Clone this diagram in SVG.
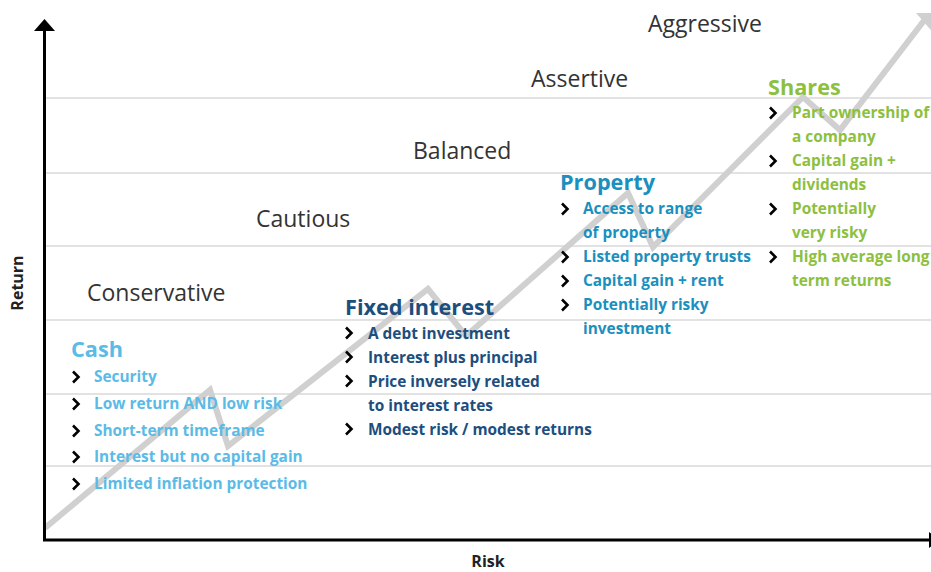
<svg xmlns="http://www.w3.org/2000/svg" width="931" height="572" viewBox="0 0 931 572">
<style>
.grid{stroke:#d9d9d9;stroke-width:1.5;fill:none}
.axis{stroke:#000;stroke-width:3;fill:none}
.zig{stroke:#d0d0d0;stroke-width:6;fill:none;stroke-linejoin:miter}
.lvl{font-family:"Open Sans","Liberation Sans",sans-serif;font-size:23px;fill:#333}
.head{font-family:"Open Sans","Liberation Sans",sans-serif;font-size:21.7px;font-weight:bold}
.item{font-family:"Open Sans","Liberation Sans",sans-serif;font-size:15.4px;font-weight:bold}
.ax{font-family:"Open Sans","Liberation Sans",sans-serif;font-size:16px;font-weight:bold;fill:#222}
.cash{fill:#5bbbe6}
.fixed{fill:#1c4e7e}
.prop{fill:#1b8fbd}
.shares{fill:#8dc03f}
.chev{stroke:#000;stroke-width:2.6;fill:none}
</style>
<defs>
<path id="chev" class="chev" d="M0,-5.5 L5.5,0 L0,5.5"/>
</defs>
<rect width="931" height="572" fill="#fff"/>
<g id="grid">
<line class="grid" x1="46" y1="98" x2="931" y2="98"/>
<line class="grid" x1="46" y1="173" x2="931" y2="173"/>
<line class="grid" x1="46" y1="246" x2="931" y2="246"/>
<line class="grid" x1="46" y1="320" x2="931" y2="320"/>
<line class="grid" x1="46" y1="394" x2="931" y2="394"/>
<line class="grid" x1="46" y1="466" x2="931" y2="466"/>
</g>
<g id="connectors">
<path class="zig" d="M45,528 L210,390 L228,446 L428,289 L466,336 L628,193 L653,247 L803,97 L840,130 L926,18"/>
<polygon points="916,13 936,13 936,36" fill="#d0d0d0"/>
<line class="axis" x1="44.5" y1="28" x2="44.5" y2="540"/>
<polygon points="34,31 55,31 44.5,19" fill="#000"/>
<line class="axis" x1="43" y1="540" x2="931" y2="540"/>
<polygon points="929,532 929,548 940,540" fill="#000"/>
</g>
<g id="levels">
<text class="lvl" x="648" y="32">Aggressive</text>
<text class="lvl" x="531" y="87">Assertive</text>
<text class="lvl" x="413" y="159">Balanced</text>
<text class="lvl" x="256" y="227">Cautious</text>
<text class="lvl" x="87" y="301">Conservative</text>
</g>
<g id="cash">
<text class="head cash" x="71" y="357">Cash</text>
<use href="#chev" x="73" y="377"/>
<text class="item cash" x="94" y="382">Security</text>
<use href="#chev" x="73" y="404"/>
<text class="item cash" x="94" y="409">Low return AND low risk</text>
<use href="#chev" x="73" y="431"/>
<text class="item cash" x="94" y="436">Short-term timeframe</text>
<use href="#chev" x="73" y="457"/>
<text class="item cash" x="94" y="462">Interest but no capital gain</text>
<use href="#chev" x="73" y="484"/>
<text class="item cash" x="94" y="489">Limited inflation protection</text>
</g>
<g id="fixed-interest">
<text class="head fixed" x="345" y="315">Fixed interest</text>
<use href="#chev" x="346" y="333"/>
<text class="item fixed" x="368" y="339">A debt investment</text>
<use href="#chev" x="346" y="357"/>
<text class="item fixed" x="368" y="363">Interest plus principal</text>
<use href="#chev" x="346" y="381"/>
<text class="item fixed" x="368" y="387">Price inversely related</text>
<text class="item fixed" x="368" y="411">to interest rates</text>
<use href="#chev" x="346" y="429"/>
<text class="item fixed" x="368" y="435">Modest risk / modest returns</text>
</g>
<g id="property">
<text class="head prop" x="560" y="190">Property</text>
<use href="#chev" x="562" y="209"/>
<text class="item prop" x="583" y="214">Access to range</text>
<text class="item prop" x="583" y="238">of property</text>
<use href="#chev" x="562" y="257"/>
<text class="item prop" x="583" y="262">Listed property trusts</text>
<use href="#chev" x="562" y="281"/>
<text class="item prop" x="583" y="286">Capital gain + rent</text>
<use href="#chev" x="562" y="305"/>
<text class="item prop" x="583" y="310">Potentially risky</text>
<text class="item prop" x="583" y="334">investment</text>
</g>
<g id="shares">
<text class="head shares" x="768" y="95">Shares</text>
<use href="#chev" x="770" y="113"/>
<text class="item shares" x="792" y="118">Part ownership of</text>
<text class="item shares" x="792" y="142">a company</text>
<use href="#chev" x="770" y="161"/>
<text class="item shares" x="792" y="166">Capital gain +</text>
<text class="item shares" x="792" y="190">dividends</text>
<use href="#chev" x="770" y="209"/>
<text class="item shares" x="792" y="214">Potentially</text>
<text class="item shares" x="792" y="238">very risky</text>
<use href="#chev" x="770" y="257"/>
<text class="item shares" x="792" y="262">High average long</text>
<text class="item shares" x="792" y="286">term returns</text>
</g>
<g id="axis-labels">
<text class="ax" x="0" y="0" text-anchor="middle" transform="translate(23,283) rotate(-90)">Return</text>
<text class="ax" x="488" y="567" text-anchor="middle">Risk</text>
</g>
</svg>
